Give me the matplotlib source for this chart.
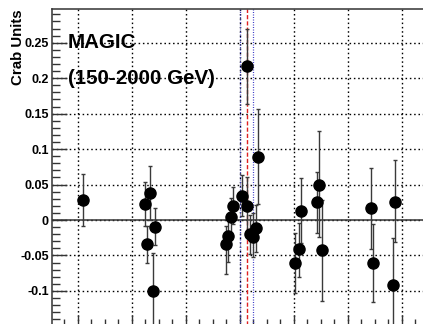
#!/usr/bin/env python3

import matplotlib
matplotlib.use('Agg')
import matplotlib.pyplot as plt
from matplotlib.ticker import MultipleLocator, FuncFormatter

plt.rcParams['font.family'] = ['Liberation Sans', 'DejaVu Sans']
plt.rcParams['axes.unicode_minus'] = False

# days (arbitrary offset), flux in Crab units, error bar low / high ends
days = [1.0, 12.5, 13.4, 14.4, 12.9, 14.0,
        31.4, 33.3, 30.4, 31.3, 28.8, 28.3, 27.9, 27.5, 33.0, 31.9, 32.5,
        40.2, 40.9, 41.4, 44.7, 44.3, 45.3, 54.3, 58.7, 54.7, 58.3]
flux = [0.028, 0.0226, 0.0376, -0.0094, -0.034, -0.0997,
        0.217, 0.0893, 0.0339, 0.020, 0.0197, 0.0047, -0.0226, -0.0338, -0.0108, -0.0197, -0.0235,
        -0.060, -0.0414, 0.013, 0.050, 0.0258, -0.0428, 0.0165, 0.026, -0.0607, -0.092]
flux_lo = [-0.009, -0.009, 0.0, -0.035, -0.060, -0.152,
           0.1636, 0.0226, 0.0056, -0.021, -0.006, -0.022, -0.059, -0.076, -0.045, -0.048, -0.052,
           -0.1025, -0.080, -0.033, -0.0235, -0.018, -0.114, -0.041, -0.031, -0.115, -0.158]
flux_hi = [0.065, 0.054, 0.076, 0.0165, -0.0085, -0.047,
           0.270, 0.1566, 0.0635, 0.060, 0.046, 0.031, 0.0056, -0.009, 0.021, 0.007, 0.010,
           -0.019, -0.0037, 0.0588, 0.125, 0.068, 0.028, 0.074, 0.084, -0.006, -0.026]

# flare window (blue dotted) and flare peak (red dashed)
window = [30.05, 32.4]
peak = 31.4

fig = plt.figure(figsize=(4.23, 3.24), dpi=100)
ax = fig.add_axes([51.7 / 423, -2 / 324, (432 - 51.7) / 423, 317 / 324])

err = [[f - lo for f, lo in zip(flux, flux_lo)], [hi - f for f, hi in zip(flux, flux_hi)]]

ax.set_xlim(-4.81, 65.6)
ax.set_ylim(-0.1495, 0.2976)

ax.xaxis.set_major_locator(MultipleLocator(10))
ax.xaxis.set_minor_locator(MultipleLocator(2.5))
ax.yaxis.set_major_locator(MultipleLocator(0.05))
ax.yaxis.set_minor_locator(MultipleLocator(0.01))
ax.yaxis.set_major_formatter(FuncFormatter(lambda v, p: '%g' % round(v, 3)))
ax.xaxis.set_major_formatter(FuncFormatter(lambda v, p: ''))

ax.grid(True, which='major', color='black', linestyle=(0, (1.1, 2.0)), linewidth=1.0)
ax.set_axisbelow(True)

ax.tick_params(axis='both', which='both', direction='in', color='#333333', width=1.0)
ax.tick_params(axis='y', which='major', length=11, pad=2, labelsize=9)
ax.tick_params(axis='y', which='minor', length=6)
ax.tick_params(axis='x', which='major', length=8)
ax.tick_params(axis='x', which='minor', length=5)
for lab in ax.get_yticklabels():
    lab.set_fontweight('bold')

for s in ax.spines.values():
    s.set_color('#333333')
    s.set_linewidth(1.1)

ax.axhline(0, color='#333333', linewidth=1.1, zorder=2)
for w in window:
    ax.axvline(w, color='#4040c8', linestyle=(0, (0.8, 1.2)), linewidth=0.9, zorder=2)
ax.axvline(peak, color='#e02020', linestyle=(0, (3, 1.5)), linewidth=1.0, zorder=2)

ax.errorbar(days, flux, yerr=err, fmt='o', color='black', markersize=8,
            ecolor='#3a3a3a', elinewidth=1.0, capsize=1.6, capthick=1.0, zorder=3)

ax.text(-1.8, 0.25, 'MAGIC', fontsize=14.8, fontweight='bold', va='center', ha='left', zorder=4)
ax.text(-1.8, 0.2, '(150-2000 GeV)', fontsize=14.8, fontweight='bold', va='center', ha='left', zorder=4)

fig.text(18 / 423, 1 - 47.5 / 324, 'Crab Units', rotation=90, fontsize=10.8,
         fontweight='bold', ha='center', va='center')

fig.savefig('out.png', dpi=100)
